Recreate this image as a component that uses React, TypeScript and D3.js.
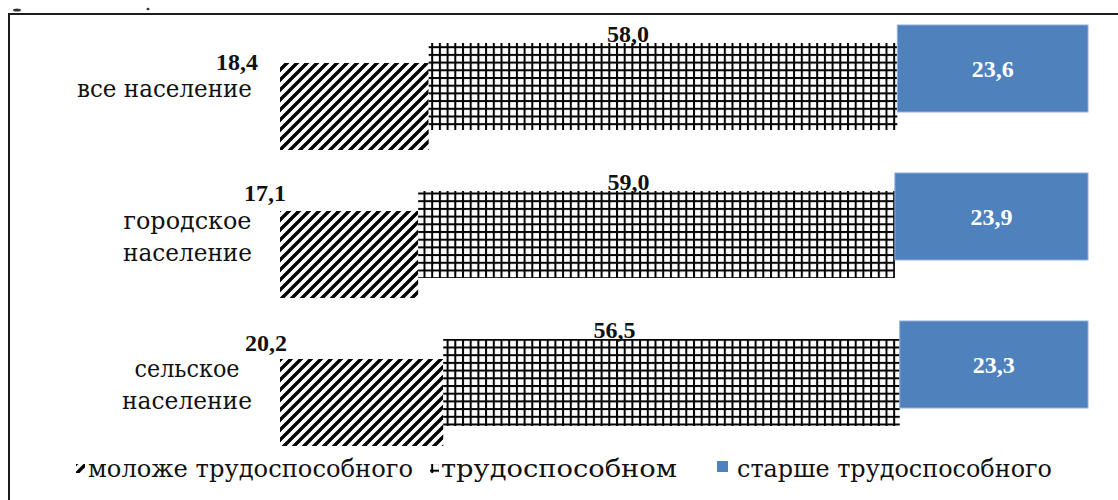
import React from "react";
import * as d3 from "d3";

const categories = ["все население", "городское население", "сельское население"];
const categoryLines = [["все население"], ["городское", "население"], ["сельское", "население"]];
const younger = [18.4, 17.1, 20.2];
const working = [58.0, 59.0, 56.5];
const older = [23.6, 23.9, 23.3];
const seriesKeys = ["younger", "working", "older"];
const seriesNames = ["моложе трудоспособного", "трудоспособном", "старше трудоспособного"];

// layout (not data)
const W = 1118;
const H = 500;
const NUMFONT = "'Liberation Serif', 'Times New Roman', serif";
const CYRFONT = "'DejaVu Serif', serif";
const segDrop = [38, 18, 0]; // vertical stagger of each series inside a row
const segH = 87;
const youngLabelNudge = [[-43, 7], [-15, -10], [-14, -8]];
const workLabelNudge = [-35, -28, -57];
const catLineWidths = [[175], [128, 129], [105, 130]];
const legendIconX = [76, 430, 717];
const legendTextX = [88, 441, 737];
const legendTextW = [325, 236, 315];

const fmt = (v: number) => d3.format(".1f")(v).replace(".", ",");

export default function App() {
  const rows = categories.map((c, i) => ({ cat: c, younger: younger[i], working: working[i], older: older[i] }));
  const stacked = d3.stack<any>().keys(seriesKeys)(rows);
  const x = d3.scaleLinear().domain([0, 100]).range([280, 1088]);
  const y = d3.scaleBand().domain(categories).range([25, 25 + 148 * 3]);
  const fills = ["url(#hatch)", "url(#grid)", "#4F81BD"];

  return (
    <div style={{ position: "absolute", left: 0, top: 0 }}>
      <svg width={W} height={H} style={{ display: "block", background: "#fff" }}>
        <defs>
          <pattern id="hatch" patternUnits="userSpaceOnUse" width={10} height={10}>
            <rect width={10} height={10} fill="#fff" />
            <path d="M-3,3 L3,-3 M0,10 L10,0 M7,13 L13,7" stroke="#000" strokeWidth={3.4} />
          </pattern>
          <pattern id="grid" patternUnits="userSpaceOnUse" width={7.7} height={7.7}>
            <rect width={7.7} height={7.7} fill="#fff" />
            <rect x={0} y={0} width={2} height={7.7} fill="#000" />
            <rect x={0} y={0} width={7.7} height={2} fill="#000" />
          </pattern>
        </defs>

        {/* cropped title fragments and frame */}
        <ellipse cx={17} cy={10} rx={4} ry={1.6} fill="#333" />
        <ellipse cx={148} cy={9} rx={1.5} ry={1.2} fill="#333" />
        <rect x={9} y={14} width={1200} height={600} fill="none" stroke="#1c1c1c" strokeWidth={2} />

        {stacked.map((layer, s) => (
          <g key={seriesKeys[s]}>
            {layer.map((d, i) => {
              const x0 = x(d[0]);
              const x1 = x(d[1]);
              const top = (y(categories[i]) as number) + segDrop[s];
              return (
                <rect
                  key={i}
                  x={x0}
                  y={top}
                  width={x1 - x0}
                  height={segH}
                  fill={fills[s]}
                  stroke={s === 2 ? "#8DB0DC" : "none"}
                  strokeWidth={s === 2 ? 1 : 0}
                />
              );
            })}
          </g>
        ))}

        {/* value labels */}
        {stacked.map((layer, s) =>
          layer.map((d, i) => {
            const x0 = x(d[0]);
            const x1 = x(d[1]);
            const top = (y(categories[i]) as number) + segDrop[s];
            const v = d[1] - d[0];
            if (s === 0) {
              return (
                <text key={`l${s}${i}`} x={x0 + youngLabelNudge[i][0]} y={top + youngLabelNudge[i][1]}
                  textAnchor="middle" fontFamily={NUMFONT} fontWeight="bold" fontSize={24} fill="#111">
                  {fmt(v)}
                </text>
              );
            }
            if (s === 1) {
              return (
                <text key={`l${s}${i}`} x={(x0 + x1) / 2 + workLabelNudge[i]} y={top - 1}
                  textAnchor="middle" fontFamily={NUMFONT} fontWeight="bold" fontSize={24} fill="#111">
                  {fmt(v)}
                </text>
              );
            }
            return (
              <text key={`l${s}${i}`} x={(x0 + x1) / 2} y={top + segH / 2 + 8}
                textAnchor="middle" fontFamily={NUMFONT} fontWeight="bold" fontSize={24} fill="#fff">
                {fmt(v)}
              </text>
            );
          })
        )}

        {/* category labels */}
        {categoryLines.map((lines, i) => {
          const top = y(categories[i]) as number;
          const n = lines.length;
          const wmax = Math.max(...catLineWidths[i]);
          const cx = 252 - wmax / 2;
          return (
            <g key={`c${i}`}>
              {lines.map((l, k) => (
                <text key={k} x={cx} y={top + 72 + (k - (n - 1) / 2) * 32.5} textAnchor="middle"
                  fontFamily={CYRFONT} fontSize={25} fill="#111"
                  textLength={catLineWidths[i][k]} lengthAdjust="spacingAndGlyphs">
                  {l}
                </text>
              ))}
            </g>
          );
        })}

        {/* legend */}
        {seriesNames.map((name, s) => (
          <g key={`lg${s}`}>
            <rect x={legendIconX[s]} y={s === 2 ? 461 : 464} width={s === 2 ? 11 : 9} height={s === 2 ? 11 : 9}
              fill={fills[s]} />
            <text x={legendTextX[s]} y={477} fontFamily={CYRFONT} fontSize={25} fill="#111"
              textLength={legendTextW[s]} lengthAdjust="spacingAndGlyphs">
              {name}
            </text>
          </g>
        ))}
      </svg>
    </div>
  );
}
